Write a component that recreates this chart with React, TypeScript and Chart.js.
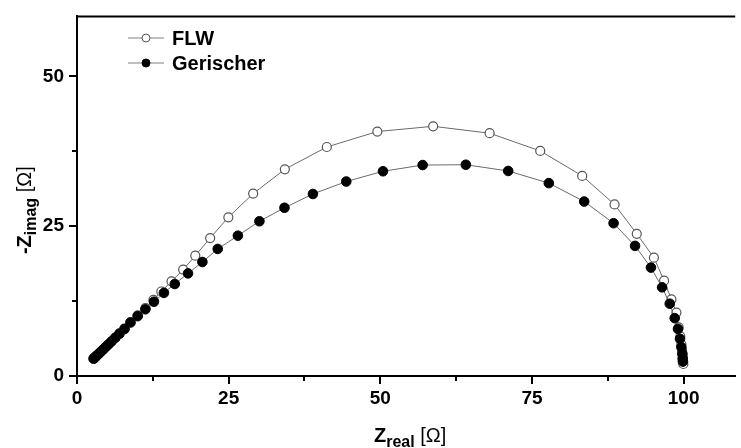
import React, { useEffect, useRef } from 'react';
import { Chart, registerables } from 'chart.js';

Chart.register(...registerables);

const seriesNames = ['FLW', 'Gerischer'];

const flwX = [2.75, 2.85, 3.0, 3.2, 3.45, 3.7, 4.0, 4.35, 4.75, 5.2, 5.7, 6.3, 7.0, 7.8, 8.8, 10.0, 11.3, 12.6, 13.9, 15.58, 17.5, 19.5, 21.95, 24.95, 29.04, 34.26, 41.18, 49.51, 58.71, 68.02, 76.36, 83.28, 88.61, 92.27, 95.1, 96.78, 97.99, 98.81, 99.18, 99.45, 99.62, 99.74, 99.82, 99.88, 99.92, 99.95];
const flwY = [2.85, 2.95, 3.1, 3.3, 3.55, 3.8, 4.1, 4.45, 4.85, 5.3, 5.8, 6.4, 7.1, 7.9, 8.95, 10.1, 11.35, 12.7, 14.1, 15.79, 17.75, 20.07, 23.02, 26.48, 30.43, 34.49, 38.21, 40.79, 41.66, 40.51, 37.55, 33.39, 28.62, 23.73, 19.74, 15.9, 12.78, 10.58, 8.11, 6.6, 5.3, 4.3, 3.5, 2.9, 2.4, 2.0];

const gerX = [2.73, 2.85, 3.0, 3.2, 3.45, 3.7, 4.0, 4.35, 4.75, 5.2, 5.7, 6.3, 7.0, 7.84, 8.82, 10.0, 11.27, 12.69, 14.33, 16.12, 18.3, 20.67, 23.2, 26.52, 30.07, 34.2, 38.89, 44.39, 50.44, 56.98, 64.1, 71.08, 77.78, 83.61, 88.45, 91.99, 94.61, 96.45, 97.71, 98.53, 99.07, 99.4, 99.62, 99.79, 99.84, 99.88];
const gerY = [2.91, 3.02, 3.16, 3.35, 3.58, 3.83, 4.12, 4.46, 4.85, 5.28, 5.77, 6.36, 7.05, 7.84, 8.93, 9.98, 11.13, 12.39, 13.87, 15.35, 17.12, 19.02, 21.2, 23.41, 25.82, 28.07, 30.37, 32.45, 34.16, 35.2, 35.25, 34.21, 32.18, 29.11, 25.49, 21.71, 18.09, 14.8, 12.06, 9.65, 7.85, 6.2, 4.82, 3.73, 2.91, 2.4];

const xMin = 0;
const xMax = 108.5;
const yMin = 0;
const yMax = 60;
const majorStep = 25;
const minorStep = 12.5;

const FONT = '"Liberation Sans", Arial, sans-serif';

const framePlugin = {
  id: 'framePlugin',
  afterDraw(chart: any) {
    const ctx = chart.ctx;
    const { left, right, top, bottom } = chart.chartArea;
    const xs = chart.scales.x;
    const ys = chart.scales.y;
    ctx.save();
    ctx.strokeStyle = '#000';
    ctx.lineWidth = 2;
    ctx.beginPath();
    ctx.moveTo(left - 1, top);
    ctx.lineTo(right, top);
    ctx.stroke();
    for (let v = minorStep; v < xMax; v += majorStep) {
      const px = Math.round(xs.getPixelForValue(v));
      ctx.beginPath();
      ctx.moveTo(px, bottom);
      ctx.lineTo(px, bottom + 5);
      ctx.stroke();
    }
    for (let v = minorStep; v < yMax; v += majorStep) {
      const py = Math.round(ys.getPixelForValue(v));
      ctx.beginPath();
      ctx.moveTo(left, py);
      ctx.lineTo(left - 5, py);
      ctx.stroke();
    }

    ctx.fillStyle = '#000';
    ctx.textBaseline = 'alphabetic';
    ctx.textAlign = 'left';
    const bigB = `bold 20px ${FONT}`;
    const subB = `bold 16px ${FONT}`;
    const big = `20px ${FONT}`;
    const p1 = 'Z', p2 = 'real', p3 = ' [Ω]';
    ctx.font = bigB; const w1 = ctx.measureText(p1).width;
    ctx.font = subB; const w2 = ctx.measureText(p2).width;
    ctx.font = big; const w3 = ctx.measureText(p3).width;
    const total = w1 + w2 + w3;
    const cx = (left + right) / 2 + 4;
    let x0 = cx - total / 2;
    const base = 442;
    ctx.font = bigB; ctx.fillText(p1, x0, base); x0 += w1;
    ctx.font = subB; ctx.fillText(p2, x0, base + 5); x0 += w2;
    ctx.font = big; ctx.fillText(p3, x0, base);

    ctx.save();
    ctx.translate(31, (top + bottom) / 2 + 14);
    ctx.rotate(-Math.PI / 2);
    const q1 = '-Z', q2 = 'imag', q3 = ' [Ω]';
    ctx.font = bigB; const v1 = ctx.measureText(q1).width;
    ctx.font = subB; const v2 = ctx.measureText(q2).width;
    ctx.font = big; const v3 = ctx.measureText(q3).width;
    let y0 = -(v1 + v2 + v3) / 2;
    ctx.font = bigB; ctx.fillText(q1, y0, 0); y0 += v1;
    ctx.font = subB; ctx.fillText(q2, y0, 5); y0 += v2;
    ctx.font = big; ctx.fillText(q3, y0, 0);
    ctx.restore();

    const ds = chart.data.datasets;
    const lx = 128;
    const rows = [38, 63];
    ds.forEach((d: any, i: number) => {
      const ly = rows[i];
      ctx.strokeStyle = '#808080';
      ctx.lineWidth = 1.2;
      ctx.beginPath();
      ctx.moveTo(lx, ly);
      ctx.lineTo(lx + 36, ly);
      ctx.stroke();
      ctx.beginPath();
      ctx.arc(lx + 18, ly, 4, 0, Math.PI * 2);
      ctx.fillStyle = d.pointBackgroundColor;
      ctx.fill();
      ctx.strokeStyle = d.pointBorderColor;
      ctx.lineWidth = 1;
      ctx.stroke();
      ctx.fillStyle = '#000';
      ctx.font = `bold 20px ${FONT}`;
      ctx.textBaseline = 'middle';
      ctx.fillText(d.label, lx + 44, ly + 1);
    });
    ctx.restore();
  },
};

export default function App() {
  const ref = useRef<HTMLCanvasElement | null>(null);
  useEffect(() => {
    if (!ref.current) return;
    const chart = new Chart(ref.current, {
      type: 'line',
      data: {
        datasets: [
          {
            label: seriesNames[0],
            data: flwX.map((x, i) => ({ x, y: flwY[i] })),
            borderColor: '#6a6a6a',
            borderWidth: 1,
            pointRadius: 4.5,
            pointBackgroundColor: '#ffffff',
            pointBorderColor: '#555555',
            pointBorderWidth: 1.2,
            showLine: true,
            tension: 0,
            order: 1,
          },
          {
            label: seriesNames[1],
            data: gerX.map((x, i) => ({ x, y: gerY[i] })),
            borderColor: '#6a6a6a',
            borderWidth: 1,
            pointRadius: 4.8,
            pointBackgroundColor: '#000000',
            pointBorderColor: '#000000',
            pointBorderWidth: 1,
            showLine: true,
            tension: 0,
            order: 0,
          },
        ],
      },
      options: {
        animation: false,
        responsive: false,
        devicePixelRatio: 1,
        layout: { padding: { top: 11, right: 0, left: 0, bottom: 0 } },
        plugins: { legend: { display: false }, tooltip: { enabled: false } },
        scales: {
          x: {
            type: 'linear',
            min: xMin,
            max: xMax,
            afterFit: (s: any) => { s.height = 72; },
            ticks: {
              stepSize: majorStep,
              includeBounds: false,
              color: '#000',
              font: { family: FONT, size: 19, weight: 'bold' },
              padding: 3,
              maxRotation: 0,
            },
            grid: { drawOnChartArea: false, drawTicks: true, tickLength: 8, color: '#000', lineWidth: 2 },
            border: { display: true, color: '#000', width: 2 },
          },
          y: {
            type: 'linear',
            min: yMin,
            max: yMax,
            afterFit: (s: any) => { s.width = 77; },
            ticks: {
              stepSize: majorStep,
              includeBounds: false,
              color: '#000',
              font: { family: FONT, size: 19, weight: 'bold' },
              padding: 5,
            },
            grid: { drawOnChartArea: false, drawTicks: true, tickLength: 8, color: '#000', lineWidth: 2 },
            border: { display: true, color: '#000', width: 2 },
          },
        },
      },
      plugins: [framePlugin],
    });
    return () => chart.destroy();
  }, []);
  return (
    <div style={{ position: 'fixed', left: 0, top: 0, width: 741, height: 448, background: '#fff' }}>
      <canvas ref={ref} width={741} height={448} style={{ display: 'block' }} />
    </div>
  );
}
